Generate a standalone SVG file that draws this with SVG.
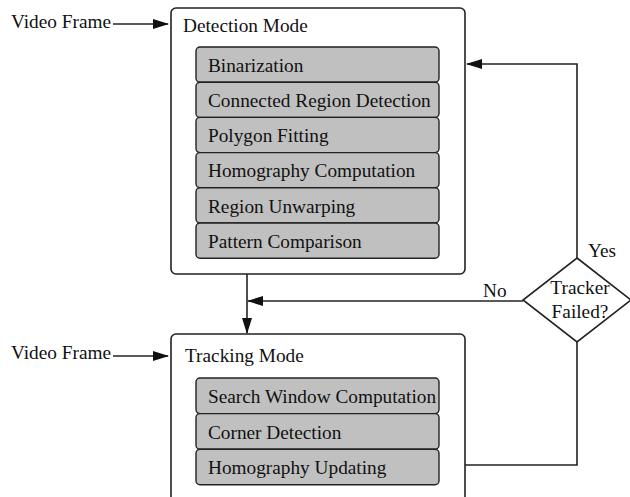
<svg xmlns="http://www.w3.org/2000/svg" width="630" height="497" viewBox="0 0 630 497">
  <defs>
    <marker id="arrow" viewBox="0 0 16 10" refX="15" refY="5" markerWidth="16" markerHeight="10" markerUnits="userSpaceOnUse" orient="auto">
      <path d="M0,0 L16,5 L0,10 Z" fill="#111"/>
    </marker>
  </defs>
  <style>
    text { font-family: 'Liberation Serif', 'Times New Roman', serif; font-size: 19.3px; fill: #111; }
    .mode { fill: #fff; stroke: #222; stroke-width: 1.6; }
    .step { fill: #c0c0c0; stroke: #222; stroke-width: 1.4; }
    .link { fill: none; stroke: #222; stroke-width: 1.6; }
    .decision { fill: #fff; stroke: #222; stroke-width: 1.6; }
  </style>

  <!-- Detection mode block -->
  <g id="detection-mode">
    <rect class="mode" x="171" y="8" width="294" height="266" rx="5"/>
    <text x="183" y="32">Detection Mode</text>
    <rect class="step" x="196" y="47" width="243" height="35.2" rx="4"/>
    <text x="208" y="72">Binarization</text>
    <rect class="step" x="196" y="82.2" width="243" height="35.2" rx="4"/>
    <text x="208" y="107">Connected Region Detection</text>
    <rect class="step" x="196" y="117.4" width="243" height="35.2" rx="4"/>
    <text x="208" y="142">Polygon Fitting</text>
    <rect class="step" x="196" y="152.6" width="243" height="35.2" rx="4"/>
    <text x="208" y="177">Homography Computation</text>
    <rect class="step" x="196" y="187.8" width="243" height="35.2" rx="4"/>
    <text x="208" y="213">Region Unwarping</text>
    <rect class="step" x="196" y="223" width="243" height="35.2" rx="4"/>
    <text x="208" y="248">Pattern Comparison</text>
  </g>

  <!-- Tracking mode block (continues past the lower edge) -->
  <g id="tracking-mode">
    <rect class="mode" x="171" y="334" width="294" height="180" rx="5"/>
    <text x="185" y="362">Tracking Mode</text>
    <rect class="step" x="196" y="378" width="243" height="35.6" rx="4"/>
    <text x="208" y="403">Search Window Computation</text>
    <rect class="step" x="196" y="413.6" width="243" height="35.6" rx="4"/>
    <text x="208" y="439">Corner Detection</text>
    <rect class="step" x="196" y="449.2" width="243" height="35.6" rx="4"/>
    <text x="208" y="474">Homography Updating</text>
  </g>

  <!-- Decision -->
  <g id="tracker-failed">
    <polygon class="decision" points="577,258 631,300 577,342 523,300"/>
    <text x="580" y="294" text-anchor="middle">Tracker</text>
    <text x="580" y="318" text-anchor="middle">Failed?</text>
  </g>

  <!-- Inputs -->
  <g id="input-detection">
    <text x="11" y="28">Video Frame</text>
  </g>
  <g id="input-tracking">
    <text x="11" y="359">Video Frame</text>
  </g>

  <!-- Connectors -->
  <g id="connectors">
    <line class="link" x1="113" y1="24" x2="168" y2="24" marker-end="url(#arrow)"/>
    <line class="link" x1="113" y1="356" x2="168" y2="356" marker-end="url(#arrow)"/>
    <line class="link" x1="247" y1="274" x2="247" y2="333" marker-end="url(#arrow)"/>
    <line class="link" x1="523" y1="301" x2="248" y2="301" marker-end="url(#arrow)"/>
    <polyline class="link" points="577,258 577,64 467,64" marker-end="url(#arrow)"/>
    <polyline class="link" points="465,465 577,465 577,342"/>
    <text x="588" y="257">Yes</text>
    <text x="483" y="297">No</text>
  </g>
</svg>
